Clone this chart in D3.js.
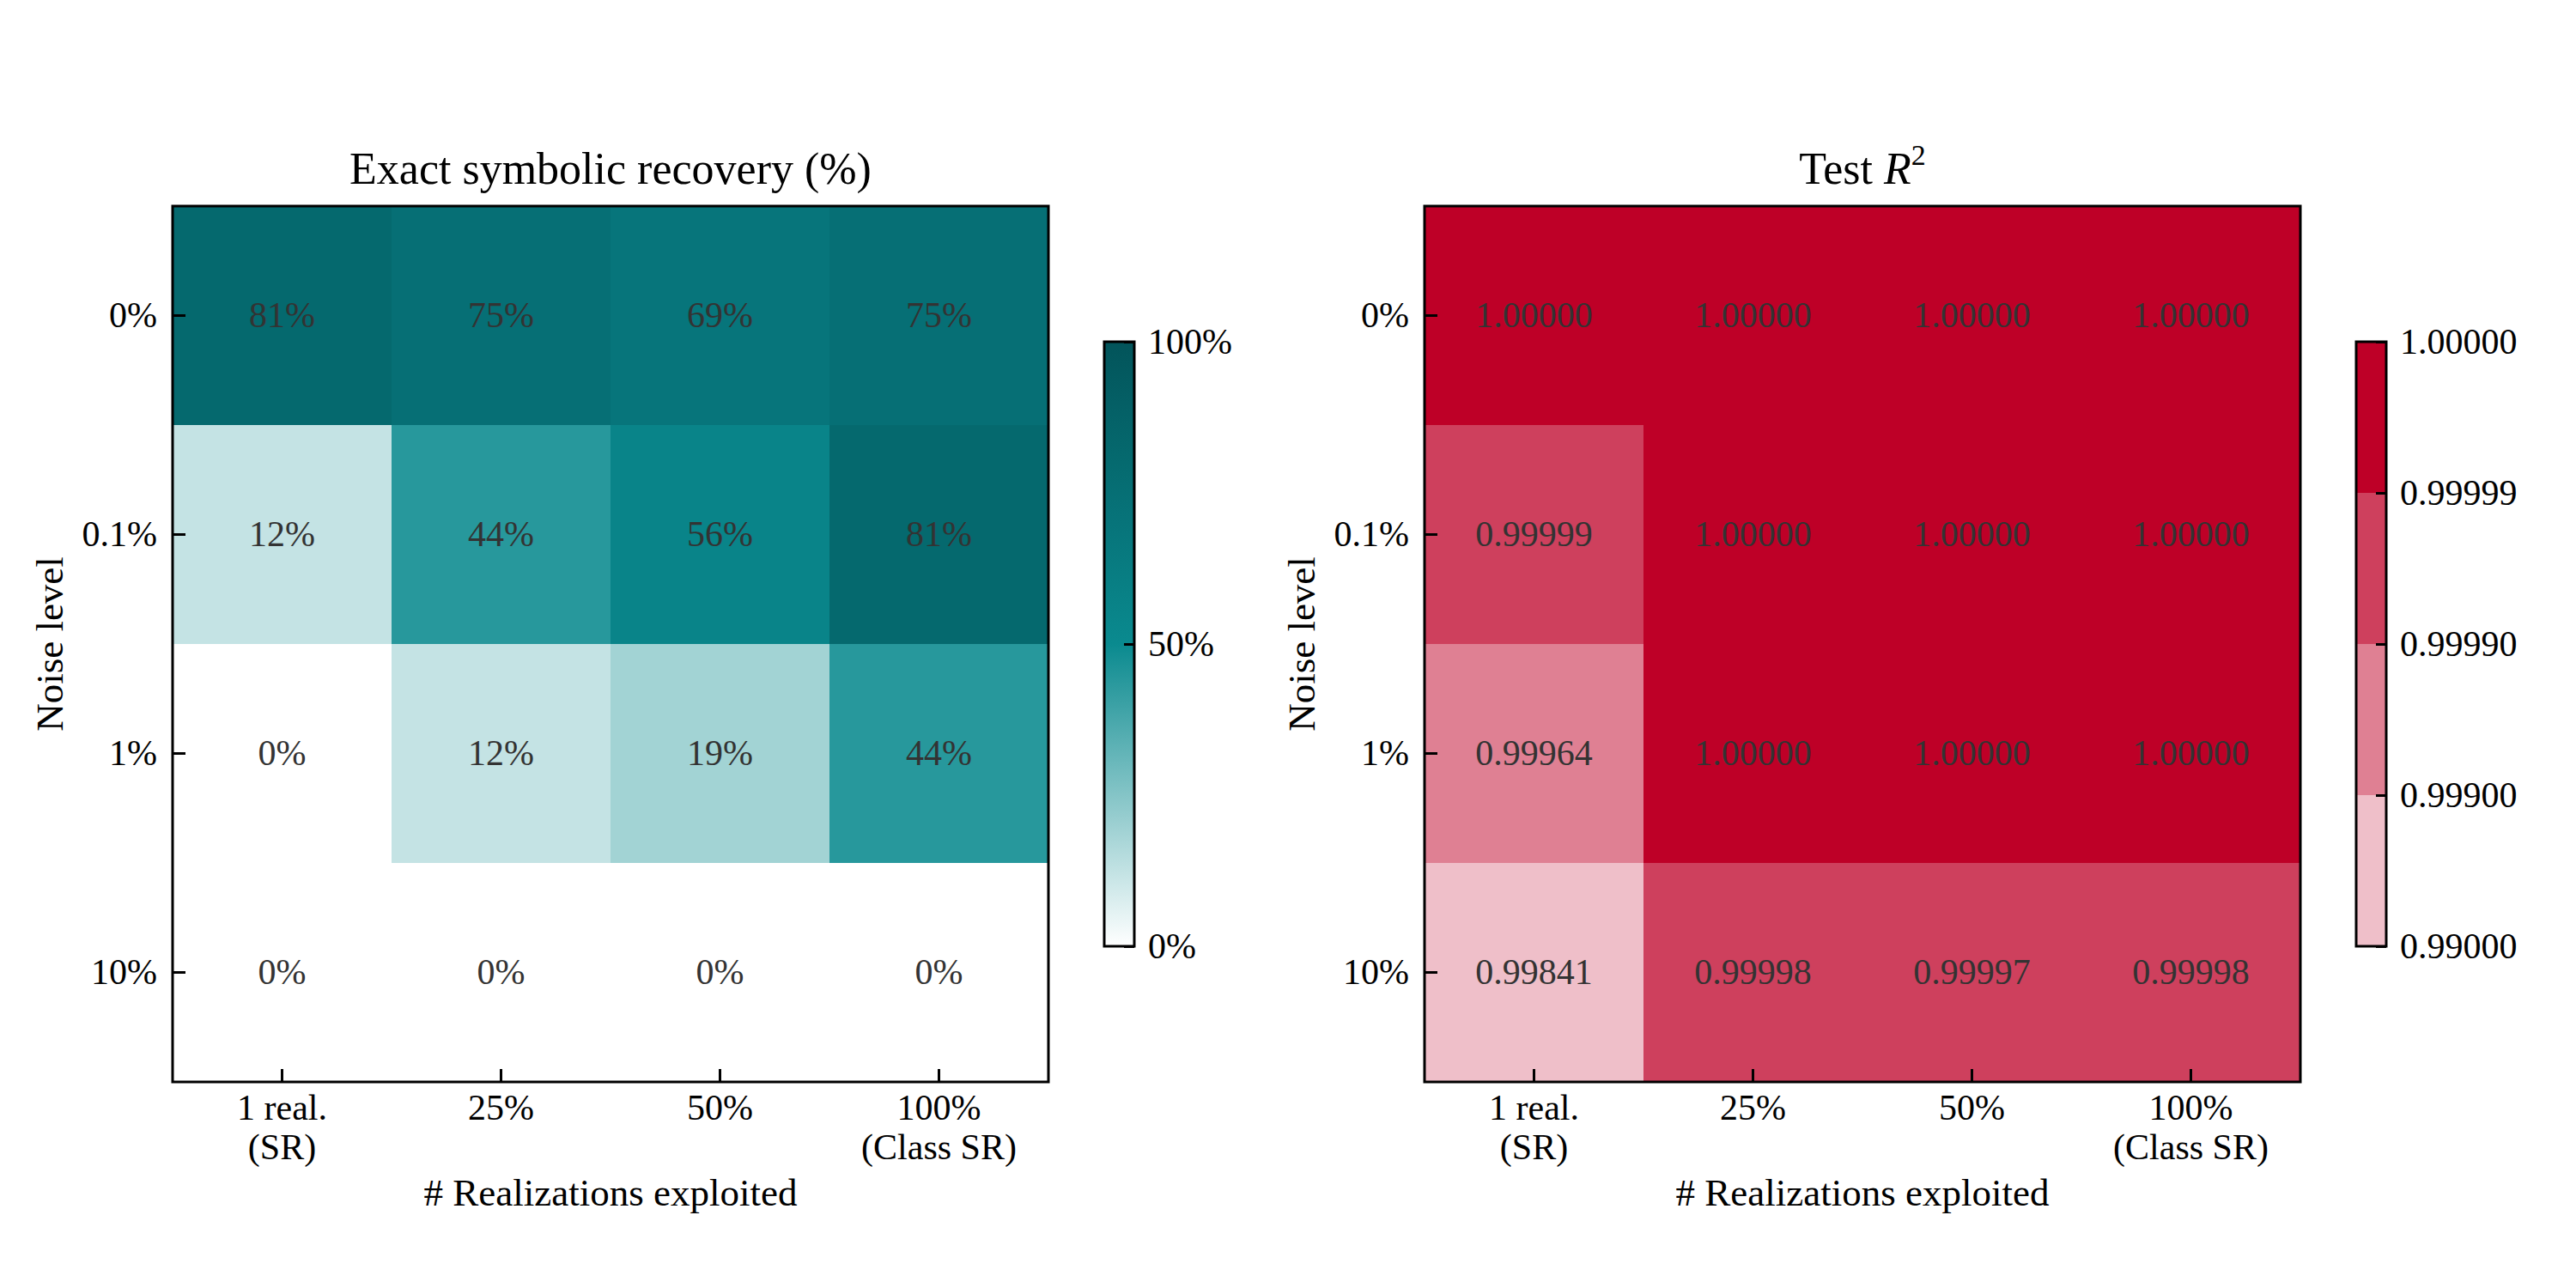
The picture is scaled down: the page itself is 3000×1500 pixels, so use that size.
<!DOCTYPE html>
<html>
<head>
<meta charset="utf-8">
<script src="https://cdn.jsdelivr.net/npm/d3@7"></script>
<style>
  body { margin: 0; background: #fff; }
  text { font-family: "Liberation Serif", "DejaVu Serif", serif; fill: #000; }
</style>
</head>
<body>
<div id="chart"></div>
<script>
////////
// Data
const xLabels = [["1 real.", "(SR)"], ["25%"], ["50%"], ["100%", "(Class SR)"]];
const yLabels = ["0%", "0.1%", "1%", "10%"];

// exact symbolic recovery, percent, rows = noise level
const recovery = [
  [81, 75, 69, 75],
  [12, 44, 56, 81],
  [0, 12, 19, 44],
  [0, 0, 0, 0]
];
const recoveryTicks = [0, 50, 100];

// test R^2, rows = noise level
const r2 = [
  [1.000000, 1.000000, 1.000000, 1.000000],
  [0.999988, 1.000000, 1.000000, 1.000000],
  [0.999640, 1.000000, 1.000000, 1.000000],
  [0.998410, 0.999980, 0.999970, 0.999980]
];
const r2Bounds = [0.99, 0.999, 0.9999, 0.99999, 1.0];
const r2TickLabels = ["0.99000", "0.99900", "0.99990", "0.99999", "1.00000"];


////////
// Canvas and layout
let svg_width = 3000;
let svg_height = 1500;
let axSize = 1020;
let axTop = 240;
let panelLeft = [201, 1659];
let cbOffset = 1085, cbWidth = 35, cbTop = 398, cbBottom = 1102;
let fontSize = 42;

let svg = d3.select("#chart")
  .append("svg")
  .attr("width", svg_width)
  .attr("height", svg_height);

svg.append("rect").attr("width", svg_width).attr("height", svg_height).attr("fill", "#fff");

let defs = svg.append("defs");


////////
// Colour scales
let tealScale = d3.scaleLinear()
  .domain([0, 50, 100])
  .range(["#ffffff", "#0a8a8f", "#02545a"]);

let redRamp = d3.interpolateRgb("#ffffff", "#be0027");
let redScale = d3.scaleThreshold()
  .domain(r2Bounds.slice(1, 4))
  .range([0.25, 0.5, 0.75, 1.0].map(redRamp));


////////
// One heatmap panel
function drawPanel(left, values, colorFn, fmt, title) {
  let g = svg.append("g");

  let x = d3.scaleBand().domain(d3.range(xLabels.length)).range([left, left + axSize]);
  let y = d3.scaleBand().domain(d3.range(yLabels.length)).range([axTop, axTop + axSize]);

  let cells = [];
  values.forEach((row, i) => row.forEach((v, j) => cells.push({ i: i, j: j, v: v })));

  g.selectAll("rect.cell")
    .data(cells)
    .enter()
    .append("rect")
    .attr("class", "cell")
    .attr("x", d => x(d.j))
    .attr("y", d => y(d.i))
    .attr("width", x.bandwidth() + 0.5)
    .attr("height", y.bandwidth() + 0.5)
    .attr("fill", d => colorFn(d.v));

  g.selectAll("text.val")
    .data(cells)
    .enter()
    .append("text")
    .attr("class", "val")
    .attr("x", d => x(d.j) + x.bandwidth() / 2)
    .attr("y", d => y(d.i) + y.bandwidth() / 2)
    .attr("dy", "0.33em")
    .attr("text-anchor", "middle")
    .attr("font-size", fontSize)
    .style("fill", "#333")
    .text(d => fmt(d.v));

  // axes with inward ticks
  let yAxis = d3.axisLeft(y)
    .tickSize(-15)
    .tickPadding(18)
    .tickFormat(i => yLabels[i]);

  let yg = g.append("g")
    .attr("transform", `translate(${left},0)`)
    .call(yAxis);

  let xAxis = d3.axisBottom(x)
    .tickSize(-15)
    .tickPadding(18)
    .tickFormat(() => "");

  let xg = g.append("g")
    .attr("transform", `translate(0,${axTop + axSize})`)
    .call(xAxis);

  [yg, xg].forEach(a => {
    a.select(".domain").remove();
    a.selectAll("line").attr("stroke", "#000").attr("stroke-width", 3);
    a.selectAll("text").attr("font-size", fontSize).style("font-family", null);
  });
  yg.selectAll("text").attr("dy", "0.33em");

  xg.selectAll(".tick text")
    .attr("y", 44)
    .attr("dy", null)
    .each(function(i) {
      let t = d3.select(this);
      xLabels[i].forEach((line, k) => {
        t.append("tspan").attr("x", 0).attr("dy", k === 0 ? 0 : 46).text(line);
      });
    });

  // frame
  g.append("rect")
    .attr("x", left).attr("y", axTop)
    .attr("width", axSize).attr("height", axSize)
    .attr("fill", "none").attr("stroke", "#000").attr("stroke-width", 3);

  // axis labels
  g.append("text")
    .attr("x", left + axSize / 2)
    .attr("y", axTop + axSize + 144)
    .attr("text-anchor", "middle")
    .attr("font-size", 45)
    .text("# Realizations exploited");

  g.append("text")
    .attr("transform", `translate(${left - 128},${axTop + axSize / 2}) rotate(-90)`)
    .attr("text-anchor", "middle")
    .attr("font-size", 45)
    .text("Noise level");

  // title
  let tt = g.append("text")
    .attr("x", left + axSize / 2)
    .attr("y", axTop - 26)
    .attr("text-anchor", "middle")
    .attr("font-size", 52);
  title(tt);

  return g;
}


////////
// Left panel: recovery
drawPanel(panelLeft[0], recovery, tealScale, v => v + "%",
  t => t.text("Exact symbolic recovery (%)"));

let grad = defs.append("linearGradient")
  .attr("id", "tealGrad")
  .attr("x1", 0).attr("y1", 1).attr("x2", 0).attr("y2", 0);
d3.range(0, 101, 10).forEach(p => {
  grad.append("stop").attr("offset", p + "%").attr("stop-color", tealScale(p));
});

let cbX0 = panelLeft[0] + cbOffset;
let cbScaleL = d3.scaleLinear().domain([0, 100]).range([cbBottom, cbTop]);

svg.append("rect")
  .attr("x", cbX0).attr("y", cbTop)
  .attr("width", cbWidth).attr("height", cbBottom - cbTop)
  .attr("fill", "url(#tealGrad)")
  .attr("stroke", "#000").attr("stroke-width", 3);

let cbAxisL = d3.axisRight(cbScaleL)
  .tickValues(recoveryTicks)
  .tickSize(-12)
  .tickPadding(16)
  .tickFormat(d => d + "%");

let cbl = svg.append("g")
  .attr("transform", `translate(${cbX0 + cbWidth},0)`)
  .call(cbAxisL);
cbl.select(".domain").remove();
cbl.selectAll("line").attr("stroke", "#000").attr("stroke-width", 3);
cbl.selectAll("text").attr("font-size", fontSize).attr("dy", "0.33em").style("font-family", null);


////////
// Right panel: test R^2
drawPanel(panelLeft[1], r2, redScale, v => v.toFixed(5), t => {
  t.append("tspan").text("Test ");
  t.append("tspan").style("font-style", "italic").text("R");
  t.append("tspan").attr("dy", -22).attr("font-size", 34).text("2");
});

let cbX1 = panelLeft[1] + cbOffset;
let cbScaleR = d3.scalePoint().domain(r2Bounds).range([cbBottom, cbTop]);

svg.append("g")
  .selectAll("rect")
  .data(r2Bounds.slice(0, 4))
  .enter()
  .append("rect")
  .attr("x", cbX1)
  .attr("y", (d, i) => cbScaleR(r2Bounds[i + 1]))
  .attr("width", cbWidth)
  .attr("height", (d, i) => cbScaleR(d) - cbScaleR(r2Bounds[i + 1]))
  .attr("fill", d => redScale(d));

svg.append("rect")
  .attr("x", cbX1).attr("y", cbTop)
  .attr("width", cbWidth).attr("height", cbBottom - cbTop)
  .attr("fill", "none")
  .attr("stroke", "#000").attr("stroke-width", 3);

let cbAxisR = d3.axisRight(cbScaleR)
  .tickSize(-12)
  .tickPadding(16)
  .tickFormat((d, i) => r2TickLabels[i]);

let cbr = svg.append("g")
  .attr("transform", `translate(${cbX1 + cbWidth},0)`)
  .call(cbAxisR);
cbr.select(".domain").remove();
cbr.selectAll("line").attr("stroke", "#000").attr("stroke-width", 3);
cbr.selectAll("text").attr("font-size", fontSize).attr("dy", "0.33em").style("font-family", null);
</script>
</body>
</html>
